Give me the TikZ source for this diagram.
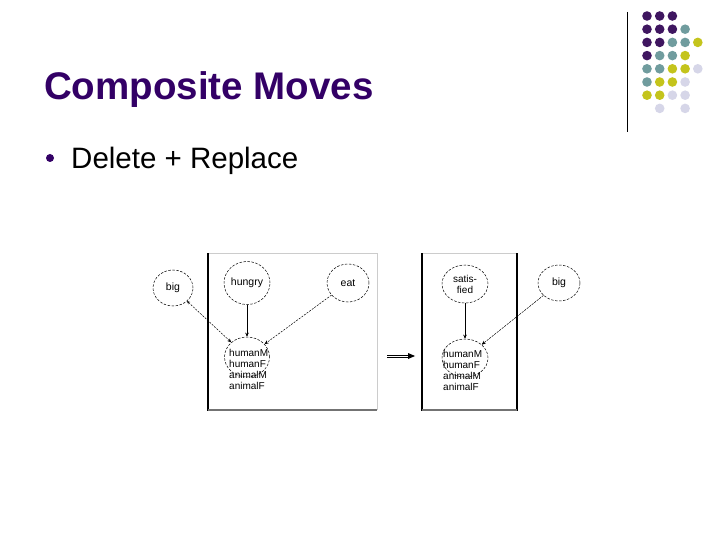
\documentclass[tikz,border=0pt]{standalone}
\usepackage{fontspec}
\setmainfont{Liberation Sans}
\usetikzlibrary{shapes.geometric,arrows.meta}
\definecolor{titlepurple}{HTML}{330066}
\definecolor{dotP}{HTML}{3F1660}
\definecolor{dotT}{HTML}{709C9E}
\definecolor{dotY}{HTML}{C4C41C}
\definecolor{dotL}{HTML}{D6D6E8}
\begin{document}
\begin{tikzpicture}[x=1pt,y=-1pt,
  dot/.style={circle,inner sep=0pt,minimum size=9.6pt},
  var/.style={ellipse,draw,dashed,dash pattern=on 2.5pt off 1.5pt,line width=0.5pt,inner sep=0pt,
     font=\fontsize{10.5}{11}\selectfont},
  lines/.style={align=left,inner sep=0pt,font=\fontsize{10}{10.9}\selectfont,anchor=north west},
  solidarr/.style={line width=0.5pt,-{Stealth[length=4pt,width=3.5pt]}},
  dasharr/.style={line width=0.5pt,dash pattern=on 2pt off 1.2pt,-{Stealth[length=4pt,width=3.5pt]}},
  lightedge/.style={draw=black!20,line width=0.6pt},
  darkedge/.style={draw=black,line width=1.1pt},
  botedge/.style={draw=black!55,line width=1.4pt}]
\useasboundingbox (0,0) rectangle (720,540);
\fill[white] (0,0) rectangle (720,540);

% decoration: vertical line and dots
\coordinate (vtop) at (627,12);
\coordinate (vbot) at (627,132);
\draw[line width=0.7pt] (vtop) -- (vbot);
\foreach \c/\r/\col in {1/1/dotP,2/1/dotP,3/1/dotP,
  1/2/dotP,2/2/dotP,3/2/dotP,4/2/dotT,
  1/3/dotP,2/3/dotP,3/3/dotT,4/3/dotT,5/3/dotY,
  1/4/dotP,2/4/dotT,3/4/dotT,4/4/dotY,
  1/5/dotT,2/5/dotT,3/5/dotY,4/5/dotY,5/5/dotL,
  1/6/dotT,2/6/dotY,3/6/dotY,4/6/dotL,
  1/7/dotY,2/7/dotY,3/7/dotL,4/7/dotL,
  2/8/dotL,4/8/dotL}
  \node[dot,fill=\col] (d\c\r) at ({647+12.7*(\c-1)},{16+13.2*(\r-1)}) {};

% title and bullet
\node[anchor=base west,inner sep=0pt,text=titlepurple,font=\fontsize{38.5}{40}\bfseries\selectfont] (title) at (44,100) {Composite Moves};
\node[circle,fill=titlepurple,inner sep=0pt,minimum size=8pt] (bullet) at (50,158) {};
\node[anchor=base west,inner sep=0pt,font=\fontsize{29.5}{31}\selectfont] (item) at (71,169) {Delete + Replace};

% left box
\draw[lightedge] (208,253) -- (377,253) -- (377,410);
\draw[darkedge] (208,253) -- (208,410.5);
\draw[botedge] (208,410) -- (377,410);

\node[var,minimum width=40pt,minimum height=36pt] (bigL) at (173,288) {big};
\node[var,minimum width=46pt,minimum height=43pt] (hungry) at (247,283) {hungry};
\node[var,minimum width=42pt,minimum height=38pt] (eat) at (348,283) {eat};
\node[var,minimum width=45pt,minimum height=40pt] (hmL) at (247,357) {};
\node[lines] (txtL) at (229,349) {humanM\\humanF\\animalM\\animalF};

\draw[solidarr] (hungry) -- (hmL);
\draw[dasharr] (eat) -- (hmL);
\draw[dasharr,{Stealth[length=3pt,width=3pt]}-{Stealth[length=4pt,width=3.5pt]}] (bigL) -- (hmL);

% double arrow
\coordinate (dl) at (387,356);
\coordinate (dr) at (415,356);
\draw[line width=0.6pt] ([yshift=-1.2pt]dl) -- ([xshift=-5pt,yshift=-1.2pt]dr);
\draw[line width=0.6pt] ([yshift=1.2pt]dl) -- ([xshift=-5pt,yshift=1.2pt]dr);
\fill ([xshift=-7pt,yshift=-3pt]dr) -- (dr) -- ([xshift=-7pt,yshift=3pt]dr) -- cycle;

% right box
\draw[lightedge] (422,253) -- (517,253);
\draw[darkedge] (422,253) -- (422,410.5);
\draw[darkedge] (517,253) -- (517,410.5);
\draw[botedge] (422,410) -- (517,410);

\node[var,minimum width=46pt,minimum height=38pt,align=center,font=\fontsize{10}{11}\selectfont] (sat) at (465,284) {satis-\\fied};
\node[var,minimum width=46pt,minimum height=38pt] (hmR) at (465,358) {};
\node[var,minimum width=42pt,minimum height=36pt] (bigR) at (559,283) {big};
\node[lines] (txtR) at (443,350) {humanM\\humanF\\animalM\\animalF};

\draw[solidarr] (sat) -- (hmR);
\draw[dasharr] (bigR) -- (hmR);
\end{tikzpicture}
\end{document}
